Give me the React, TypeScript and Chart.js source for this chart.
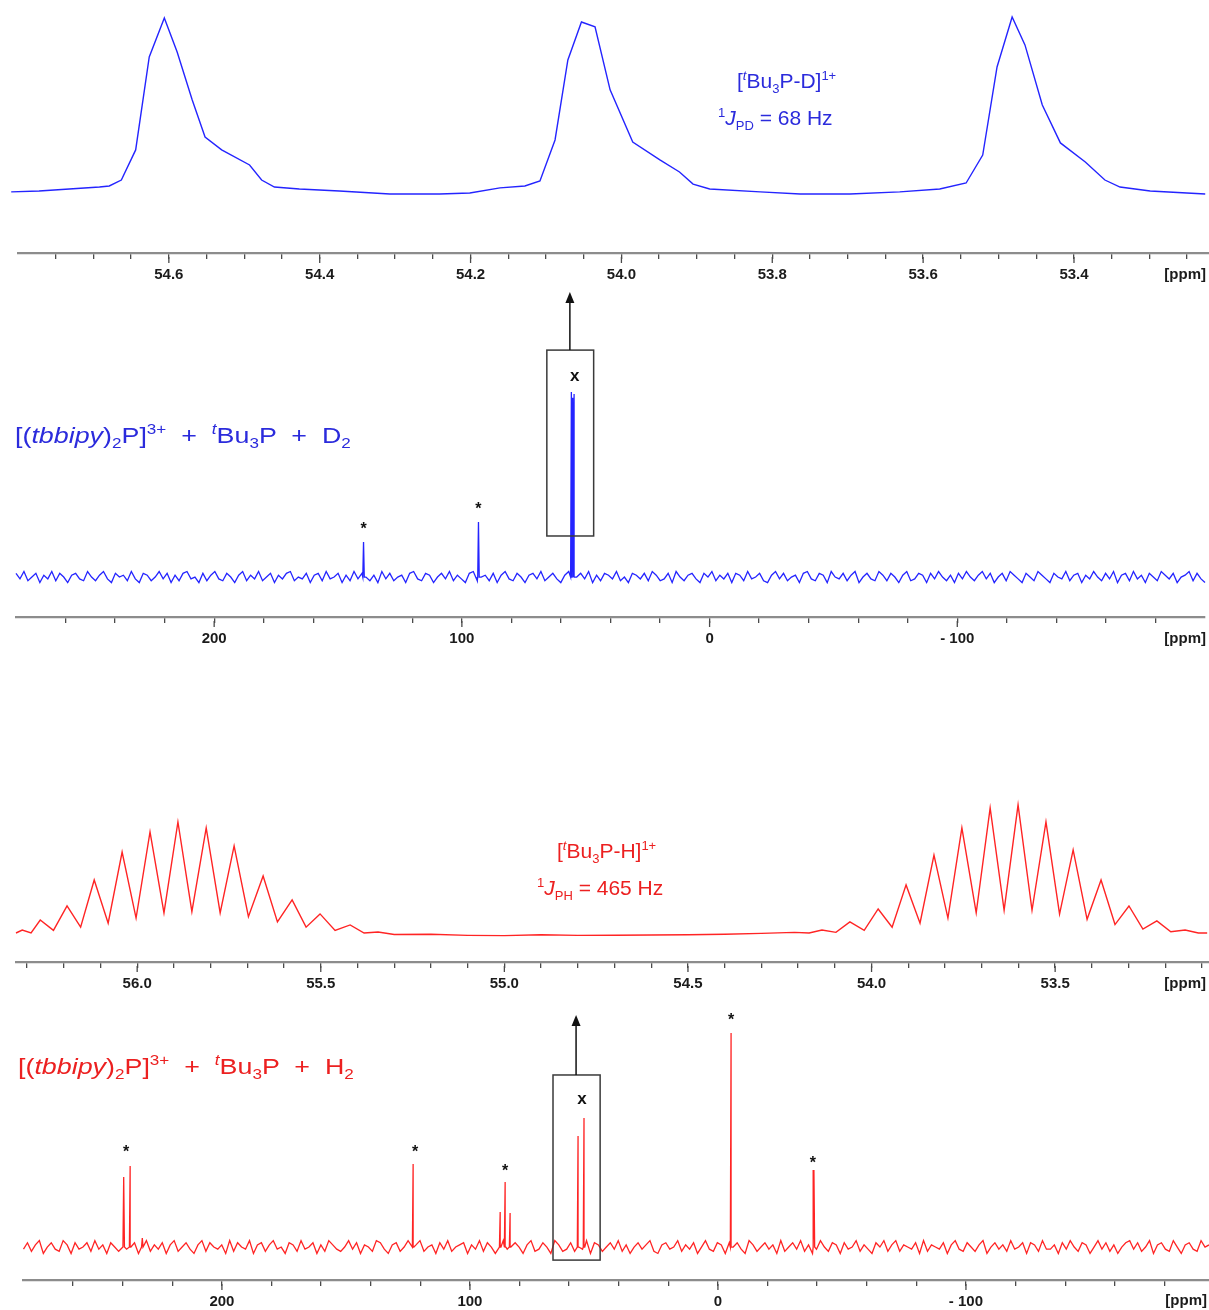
import React, { useEffect, useRef } from 'react';
import { Chart, registerables } from 'chart.js';

Chart.register(...registerables);

const FONT = '"Liberation Sans", Arial, Helvetica, sans-serif';
const BLUE_LINE = '#2424ff';
const RED_LINE = '#ff2424';
const BLUE_TEXT = '#2b2bdc';
const RED_TEXT = '#ec2020';
const CANVAS_W = 1209;

// ---------------- Panel 1: blue expansion (31P, tBu3P-D triplet) ----------------
const blueZoomPpm = [54.809, 54.772, 54.732, 54.692, 54.679, 54.663, 54.644, 54.626, 54.606, 54.589, 54.569, 54.552, 54.53, 54.493, 54.477, 54.46, 54.427, 54.374, 54.307, 54.241, 54.201, 54.161, 54.128, 54.108, 54.088, 54.071, 54.053, 54.035, 54.015, 53.985, 53.949, 53.923, 53.905, 53.883, 53.816, 53.763, 53.697, 53.631, 53.578, 53.543, 53.521, 53.502, 53.482, 53.465, 53.442, 53.418, 53.385, 53.359, 53.339, 53.299, 53.226];
const blueZoomInt = [0.6, 1.1, 2.3, 3.4, 4.0, 7.4, 24.6, 77.7, 100, 80.6, 53.1, 32.0, 24.6, 16.0, 7.4, 3.4, 2.3, 1.1, -0.6, -0.6, 0, 2.9, 4.0, 6.9, 30.3, 76.0, 97.7, 94.9, 58.9, 29.1, 18.9, 12.0, 5.1, 2.3, 0.6, -0.6, -0.6, 0.6, 2.3, 5.7, 21.7, 72.0, 100.6, 84.6, 50.3, 28.6, 17.7, 7.4, 3.4, 1.1, -0.6];
const blueZoomTicks = [54.6, 54.4, 54.2, 54.0, 53.8, 53.6, 53.4];

// ---------------- Panel 2: blue full spectrum ----------------
const fullTicks = [200, 100, 0, -100];
const blueFullPeakPpm = [139.7, 93.3, 55.8, 55.25, 54.7];
const blueFullPeakInt = [18.9, 29.7, 100, 97, 99];
const blueStarPpm = [139.7, 93.3];
const blueStarInt = [28.1, 38.9];
const blueBoxPpm = [65.7, 46.8];
const blueBoxInt = [22.2, 122.7];
const blueArrowPpm = 56.4;
const blueArrowInt = [122.7, 154.1];
const blueXMark = [54.4, 108.6];
const blueFullNoise = [
  2, -1, 3, -2, 0, 2, -3, 1, -1, 3, -2, 2, 0, -3, 1, 2, -1, -2, 3, 0,
  -2, 1, 3, -1, -3, 2, 0, 1, -2, 3, -1, -3, 2, 1, -2, 0, 3, -1, 2, -3,
  1, -2, 2, 3, -1, 0, -3, 2, -2, 1, 3, -1, -2, 2, 0, -3, 1, 3, -2, 1,
  -1, 3, -2, 0, 2, -3, 1, -1, 2, 3, -2, 0, -1, 2, -3, 1, 2, -2, 3, -1,
  0, 2, -3, 1, -2, 3, -1, 2, 0, -2, 1, -3, 3, -1, 2, -2, 0, 1, -3, 2,
  3, -1, -2, 2, 1, -3, 0, 2, -1, 3, -2, 1, -1, -3, 2, 3, -2, 0, 1, -2,
  2, -3, 1, 3, -1, -2, 2, 0, -3, 1, 2, -1, 3, -2, 0, 2, -1, -3, 1, 3,
  -2, 0, 2, -1, 3, -3, 1, -2, 2, 1, -1, 3, -2, 0, -3, 2, 1, -1, 2, -2,
  3, 1, -2, -1, 2, -3, 3, 0, -2, 1, 2, -1, -3, 2, 0, 3, -2, 1, -1, 2,
  -3, 2, 1, -2, 3, -1, 0, 2, -2, -3, 1, 3, -1, 2, -2, 0, 1, -3, 2, 3,
  -1, -2, 2, 1, -3, 3, 0, -1, 2, -2, 1, 3, -3, 0, 2, -1, -2, 3, 1, -2,
  2, 0, -3, 1, 3, -2, -1, 2, 1, -3, 2, -1, 3, 0, -2, 1, -3, 2, -1, 3,
  0, -2, 1, 3, -1, 2, -3, 0, 2, -2, 3, 1, -1, -3, 2, 0, -2, 3, 1, -1,
  -3, 2, 0, -1, 3, -2, 1, 2, -3, 1, -1, 3, 0, -2, 2, -1, 3, -3, 1, 2,
  -2, 3, -1, 1, -3, 2, 0, -2, 3, 1, -1, 2, -3, 0, 1, 3, -2, 2, -1, -3,
];

// ---------------- Panel 3: red expansion (tBu3P-H doublet of multiplets) ----------------
const redZoomPpm = [56.33, 56.313, 56.289, 56.264, 56.228, 56.191, 56.154, 56.117, 56.079, 56.041, 56.003, 55.965, 55.927, 55.889, 55.851, 55.812, 55.774, 55.736, 55.697, 55.657, 55.618, 55.578, 55.54, 55.502, 55.461, 55.42, 55.382, 55.344, 55.3, 55.2, 55.1, 55.0, 54.9, 54.8, 54.7, 54.6, 54.5, 54.4, 54.3, 54.21, 54.17, 54.135, 54.097, 54.059, 54.02, 53.982, 53.944, 53.906, 53.868, 53.83, 53.792, 53.754, 53.715, 53.677, 53.639, 53.601, 53.563, 53.525, 53.488, 53.451, 53.413, 53.375, 53.337, 53.299, 53.261, 53.223, 53.185, 53.146, 53.11, 53.086];
const redZoomInt = [1.5, 3.8, 1.5, 11.5, 3.5, 22.3, 6, 42.3, 9, 63.8, 13, 79.2, 17, 86.9, 18, 82.3, 17, 68.5, 14, 45.4, 10, 26.9, 6, 16.2, 3.5, 7.7, 1.5, 2.3, 0.3, 0.5, -0.3, -0.5, 0.2, -0.3, -0.2, 0, 0.2, 0.5, 1.2, 2.0, 1.5, 3.8, 2, 10, 3.5, 20, 6, 38.5, 9, 61.5, 13, 82.3, 17, 97.7, 19, 100, 19, 86.9, 16, 65.4, 12, 42.3, 8, 22.3, 4.5, 10.8, 2.5, 3.8, 1.5, 1.5];
const redZoomTicks = [56.0, 55.5, 55.0, 54.5, 54.0, 53.5];

// ---------------- Panel 4: red full spectrum ----------------
const redFullPeakPpm = [239.6, 237.0, 232.1, 122.9, 87.8, 85.8, 83.8, 56.4, 54.0, -5.3, -38.7];
const redFullPeakInt = [32.7, 37.9, 4.2, 38.8, 16.4, 30.4, 15.9, 51.9, 60.3, 100, 36.0];
const redStarPpm = [238.6, 122.1, 85.8, -5.3, -38.3];
const redStarInt = [46.3, 46.3, 37.4, 107.9, 41.1];
const redBoxPpm = [66.5, 47.5];
const redBoxInt = [-6.1, 80.4];
const redArrowPpm = 57.2;
const redArrowInt = [80.4, 108.4];
const redXMark = [54.8, 68.7];
const redFullNoise = [
  -1, 2, -2, 1, 3, -3, 0, 2, -1, -2, 3, 1, -3, 2, -1, 0, 2, -2, 3, -1,
  1, -3, 2, 0, -2, 3, -1, 1, 2, -3, 0, 3, -2, 1, -1, 2, -3, 1, 3, -2,
  0, 2, -1, -3, 1, 3, -2, 2, 0, -1, 1, -3, 3, -2, 2, 0, -1, 3, -3, 1,
  2, -2, 1, 3, -1, 0, -3, 2, 1, -2, 3, -1, 0, 2, -3, 1, -2, 3, 1, -1,
  -2, 0, 3, -1, 2, -3, 1, 0, -2, 3, 2, -1, -3, 1, 2, -2, 0, 3, -1, 1,
  3, -2, 0, 1, -3, 2, -1, 3, -2, 0, 1, 2, -3, 1, -1, 3, -2, 2, 0, -3,
  1, 3, -1, -2, 2, 0, -3, 1, 3, -2, -1, 2, 0, -3, 3, 1, -2, -1, 2, -2,
  0, -1, 3, -3, 2, 1, -2, 0, 2, -1, 3, -2, 1, -3, 0, 2, -1, 1, 3, -2,
  -3, 1, 2, -1, 0, 3, -2, 1, -1, 2, -3, 0, 3, -1, -2, 2, 1, -3, 2, 0,
  2, -1, -3, 3, 1, -2, 0, 2, -1, 1, -3, 3, -2, 0, 2, -1, 3, -2, 1, -3,
  -1, 3, 0, -2, 2, 1, -3, 2, -1, 0, 3, -2, 1, -1, -3, 2, 0, 3, -2, 1,
  3, -2, 1, 0, -1, 2, -3, 3, -2, 1, 0, -1, 2, -3, 1, 3, -1, -2, 2, 0,
  -2, 1, 3, -3, 0, 2, -1, 1, -2, 3, -1, 0, 2, -3, 2, 1, -2, 3, -1, -1,
  1, -3, 2, -1, 3, 0, -2, 2, 1, -3, 0, 3, -1, 2, -2, 1, -3, 0, 2, 3,
  -1, 2, -2, 0, 3, -3, 1, 2, -1, -2, 3, 0, -3, 1, 2, -1, -2, 3, 0, 1,
];

// ---------------- helpers ----------------
type Pt = { x: number; y: number };

function pairPoints(ppm: number[], ints: number[]): Pt[] {
  return ppm.map((x, i) => ({ x, y: ints[i] })).sort((a, b) => a.x - b.x);
}

function stickSpectrum(xMin: number, xMax: number, noise: number[], peaks: number[], ints: number[], hw: number): Pt[] {
  const pts: Pt[] = [];
  const n = noise.length;
  for (let i = 0; i < n; i++) {
    const x = xMax - (i * (xMax - xMin)) / (n - 1);
    if (peaks.some((p) => Math.abs(p - x) < hw * 1.5)) continue;
    pts.push({ x, y: noise[i] });
  }
  peaks.forEach((p, i) => {
    pts.push({ x: p + hw, y: 0 }, { x: p, y: ints[i] }, { x: p - hw, y: 0 });
  });
  pts.sort((a, b) => a.x - b.x);
  return pts;
}

function tickValues(min: number, max: number, step: number): number[] {
  const out: number[] = [];
  const k0 = Math.ceil(min / step - 1e-9);
  const k1 = Math.floor(max / step + 1e-9);
  for (let k = k0; k <= k1; k++) {
    const v = +(k * step).toFixed(6);
    if (v > min + 1e-9 && v < max - 1e-9) out.push(v);
  }
  return out;
}

const fmtZoom = (v: number) => v.toFixed(1);
const fmtFull = (v: number) => (v < 0 ? '- ' + Math.abs(v) : String(v));

const decorPlugin = {
  id: 'decor',
  afterDraw(chart: any, _args: any, o: any) {
    const { ctx, chartArea } = chart;
    const xs = chart.scales.x;
    const ys = chart.scales.y;
    const axisY = chartArea.bottom;
    ctx.save();
    // longer major tick marks
    ctx.strokeStyle = '#4a4a4a';
    ctx.lineWidth = 1.3;
    (o.majors || []).forEach((v: number) => {
      const px = xs.getPixelForValue(v);
      ctx.beginPath();
      ctx.moveTo(px, axisY + 4);
      ctx.lineTo(px, axisY + 10);
      ctx.stroke();
    });
    // unit label
    ctx.fillStyle = '#1b1b1b';
    ctx.font = `bold 15px ${FONT}`;
    ctx.textAlign = 'right';
    ctx.textBaseline = 'middle';
    ctx.fillText('[ppm]', o.unitRight, axisY + o.unitDy);
    // stars
    if (o.starPpm) {
      ctx.fillStyle = '#111';
      ctx.font = `bold 16px ${FONT}`;
      ctx.textAlign = 'center';
      ctx.textBaseline = 'alphabetic';
      o.starPpm.forEach((p: number, i: number) => {
        ctx.fillText('*', xs.getPixelForValue(p), ys.getPixelForValue(o.starInt[i]) + 0.57 * 16);
      });
    }
    // box
    if (o.boxPpm) {
      const x1 = xs.getPixelForValue(o.boxPpm[0]);
      const x2 = xs.getPixelForValue(o.boxPpm[1]);
      const yTop = ys.getPixelForValue(o.boxInt[1]);
      const yBot = ys.getPixelForValue(o.boxInt[0]);
      ctx.strokeStyle = '#3a3a3a';
      ctx.lineWidth = 1.5;
      ctx.strokeRect(x1, yTop, x2 - x1, yBot - yTop);
    }
    // arrow
    if (o.arrowPpm !== undefined) {
      const ax = xs.getPixelForValue(o.arrowPpm);
      const yb = ys.getPixelForValue(o.arrowInt[0]);
      const yt = ys.getPixelForValue(o.arrowInt[1]);
      ctx.strokeStyle = '#111';
      ctx.fillStyle = '#111';
      ctx.lineWidth = 1.5;
      ctx.beginPath();
      ctx.moveTo(ax, yb);
      ctx.lineTo(ax, yt + 9);
      ctx.stroke();
      ctx.beginPath();
      ctx.moveTo(ax, yt);
      ctx.lineTo(ax - 4.5, yt + 11);
      ctx.lineTo(ax + 4.5, yt + 11);
      ctx.closePath();
      ctx.fill();
    }
    // x mark
    if (o.xMark) {
      ctx.fillStyle = '#111';
      ctx.font = `bold 17px ${FONT}`;
      ctx.textAlign = 'center';
      ctx.textBaseline = 'alphabetic';
      ctx.fillText('x', xs.getPixelForValue(o.xMark[0]), ys.getPixelForValue(o.xMark[1]) + 0.26 * 17);
    }
    ctx.restore();
  },
};

type PanelSpec = {
  canvasTop: number;
  canvasH: number;
  chartTop: number;
  axisY: number;
  left: number;
  right: number;
  xMin: number;
  xMax: number;
  yMin: number;
  yMax: number;
  step: number;
  majors: number[];
  fmt: (v: number) => string;
  points: Pt[];
  color: string;
  lineWidth: number;
  decor: any;
};

function Panel({ p }: { p: PanelSpec }) {
  const ref = useRef<HTMLCanvasElement>(null);
  useEffect(() => {
    const canvas = ref.current!;
    const ticksVals = tickValues(p.xMin, p.xMax, p.step);
    const T = p.chartTop - p.canvasTop;
    const B = p.axisY - p.canvasTop;
    const padding = { left: p.left, right: CANVAS_W - p.right, top: T, bottom: p.canvasH - B - 31 };
    const options: any = {
      responsive: false,
      animation: false,
      devicePixelRatio: 1,
      events: [],
      layout: { autoPadding: false, padding },
      plugins: { legend: { display: false }, tooltip: { enabled: false }, decor: p.decor },
      scales: {
        x: {
          type: 'linear',
          min: p.xMin,
          max: p.xMax,
          reverse: true,
          afterBuildTicks: (axis: any) => {
            axis.ticks = ticksVals.map((v) => ({ value: v }));
          },
          ticks: {
            autoSkip: false,
            maxRotation: 0,
            minRotation: 0,
            padding: 7,
            color: '#1b1b1b',
            font: { family: FONT, size: 15, weight: 'bold' },
            callback: (v: number) => {
              const m = p.majors.find((mm) => Math.abs(mm - v) < 1e-6);
              return m === undefined ? '' : p.fmt(m);
            },
          },
          grid: { drawOnChartArea: false, drawTicks: true, tickLength: 6, color: '#4a4a4a', lineWidth: 1.3 },
          border: { display: true, color: '#8c8c8c', width: 2.2 },
        },
        y: { display: false, min: p.yMin, max: p.yMax },
      },
    };
    const chart = new Chart(canvas, {
      type: 'line',
      data: {
        datasets: [
          {
            data: p.points,
            borderColor: p.color,
            borderWidth: p.lineWidth,
            pointRadius: 0,
            tension: 0,
            fill: false,
            clip: 8,
          } as any,
        ],
      },
      options,
      plugins: [decorPlugin as any],
    });
    for (let k = 0; k < 3; k++) {
      const ca = chart.chartArea;
      const dl = p.left - ca.left;
      const dr = ca.right - p.right;
      const dt = T - ca.top;
      const db = ca.bottom - B;
      if (Math.abs(dl) + Math.abs(dr) + Math.abs(dt) + Math.abs(db) < 0.01) break;
      padding.left += dl;
      padding.right += dr;
      padding.top += dt;
      padding.bottom += db;
      chart.update();
    }
    return () => chart.destroy();
  }, []);
  return (
    <canvas
      ref={ref}
      width={CANVAS_W}
      height={p.canvasH}
      style={{ position: 'absolute', left: 0, top: p.canvasTop, width: CANVAS_W, height: p.canvasH }}
    />
  );
}

const panelA: PanelSpec = {
  canvasTop: 0, canvasH: 300, chartTop: 8, axisY: 253, left: 18, right: 1209,
  xMin: 53.221, xMax: 54.8, yMin: -34.3, yMax: 105.7, step: 0.05,
  majors: blueZoomTicks, fmt: fmtZoom,
  points: pairPoints(blueZoomPpm, blueZoomInt), color: BLUE_LINE, lineWidth: 1.4,
  decor: { majors: blueZoomTicks, unitRight: 1206, unitDy: 22 },
};

const panelB: PanelSpec = {
  canvasTop: 280, canvasH: 380, chartTop: 285, axisY: 617, left: 16, right: 1205,
  xMin: -200, xMax: 280, yMin: -21.6, yMax: 157.9, step: 20,
  majors: fullTicks, fmt: fmtFull,
  points: stickSpectrum(-200, 280, blueFullNoise, blueFullPeakPpm, blueFullPeakInt, 0.3), color: BLUE_LINE, lineWidth: 1.3,
  decor: {
    majors: fullTicks, unitRight: 1206, unitDy: 22,
    starPpm: blueStarPpm, starInt: blueStarInt,
    boxPpm: blueBoxPpm, boxInt: blueBoxInt,
    arrowPpm: blueArrowPpm, arrowInt: blueArrowInt,
    xMark: blueXMark,
  },
};

const panelC: PanelSpec = {
  canvasTop: 690, canvasH: 320, chartTop: 700, axisY: 962, left: 16, right: 1209,
  xMin: 53.081, xMax: 56.33, yMin: -20.8, yMax: 180.7, step: 0.1,
  majors: redZoomTicks, fmt: fmtZoom,
  points: pairPoints(redZoomPpm, redZoomInt), color: RED_LINE, lineWidth: 1.4,
  decor: { majors: redZoomTicks, unitRight: 1206, unitDy: 22 },
};

const panelD: PanelSpec = {
  canvasTop: 1000, canvasH: 340, chartTop: 1005, axisY: 1280, left: 23.5, right: 1209,
  xMin: -198, xMax: 280, yMin: -15.4, yMax: 113.1, step: 20,
  majors: fullTicks, fmt: fmtFull,
  points: stickSpectrum(-198, 280, redFullNoise, redFullPeakPpm, redFullPeakInt, 0.3), color: RED_LINE, lineWidth: 1.3,
  decor: {
    majors: fullTicks, unitRight: 1207, unitDy: 21,
    starPpm: redStarPpm, starInt: redStarInt,
    boxPpm: redBoxPpm, boxInt: redBoxInt,
    arrowPpm: redArrowPpm, arrowInt: redArrowInt,
    xMark: redXMark,
  },
};

const S = ({ fs, dy, children }: { fs: number; dy: number; children: React.ReactNode }) => (
  <span style={{ fontSize: fs, position: 'relative', top: dy }}>{children}</span>
);

function TextAt({ x, baseline, fs, color, scaleX, children }: { x: number; baseline: number; fs: number; color: string; scaleX?: number; children: React.ReactNode }) {
  return (
    <div
      style={{
        position: 'absolute',
        left: x,
        top: baseline - 0.8465 * fs,
        fontFamily: FONT,
        fontSize: fs,
        lineHeight: `${fs}px`,
        color,
        whiteSpace: 'pre',
        transform: scaleX ? `scaleX(${scaleX})` : undefined,
        transformOrigin: '0 0',
      }}
    >
      {children}
    </div>
  );
}

export default function App() {
  return (
    <div style={{ position: 'absolute', left: 0, top: 0, width: 1209, height: 1310, overflow: 'hidden', background: '#fff' }}>
      <Panel p={panelA} />
      <Panel p={panelB} />
      <Panel p={panelC} />
      <Panel p={panelD} />

      <TextAt x={737} baseline={88} fs={21} color={BLUE_TEXT}>
        [<S fs={13} dy={-8}><i>t</i></S>Bu<S fs={13} dy={5}>3</S>P-D]<S fs={13} dy={-8}>1+</S>
      </TextAt>
      <TextAt x={718} baseline={125} fs={21} color={BLUE_TEXT}>
        <S fs={13} dy={-8}>1</S><i>J</i><S fs={13} dy={5}>PD</S> = 68 Hz
      </TextAt>
      <TextAt x={15} baseline={444} fs={22} color={BLUE_TEXT} scaleX={1.22}>
        [(<i>tbbipy</i>)<S fs={14} dy={5}>2</S>P]<S fs={14} dy={-9}>3+</S>{'  +  '}<S fs={14} dy={-9}><i>t</i></S>Bu<S fs={14} dy={5}>3</S>P{'  +  '}D<S fs={14} dy={5}>2</S>
      </TextAt>

      <TextAt x={557} baseline={858} fs={21} color={RED_TEXT}>
        [<S fs={13} dy={-8}><i>t</i></S>Bu<S fs={13} dy={5}>3</S>P-H]<S fs={13} dy={-8}>1+</S>
      </TextAt>
      <TextAt x={537} baseline={895} fs={21} color={RED_TEXT}>
        <S fs={13} dy={-8}>1</S><i>J</i><S fs={13} dy={5}>PH</S> = 465 Hz
      </TextAt>
      <TextAt x={18} baseline={1075} fs={22} color={RED_TEXT} scaleX={1.22}>
        [(<i>tbbipy</i>)<S fs={14} dy={5}>2</S>P]<S fs={14} dy={-9}>3+</S>{'  +  '}<S fs={14} dy={-9}><i>t</i></S>Bu<S fs={14} dy={5}>3</S>P{'  +  '}H<S fs={14} dy={5}>2</S>
      </TextAt>
    </div>
  );
}
